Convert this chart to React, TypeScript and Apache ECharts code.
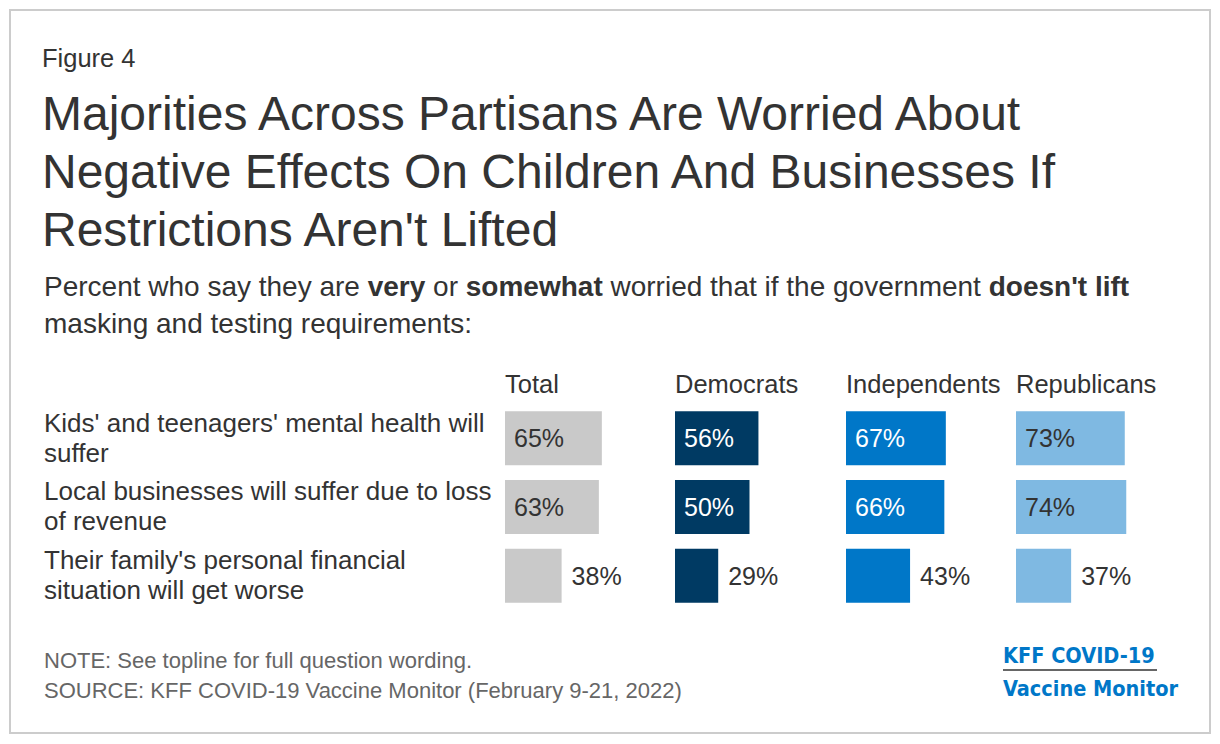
import React, { useEffect, useRef } from "react";
import * as echarts from "echarts";

const categories = [
  ["Kids' and teenagers' mental health will", "suffer"],
  ["Local businesses will suffer due to loss", "of revenue"],
  ["Their family's personal financial", "situation will get worse"],
];
const groups = ["Total", "Democrats", "Independents", "Republicans"];
const totalValues = [65, 63, 38];
const democratValues = [56, 50, 29];
const independentValues = [67, 66, 43];
const republicanValues = [73, 74, 37];
const groupValues = [totalValues, democratValues, independentValues, republicanValues];
const groupColors = ["#c9c9c9", "#003a63", "#0077c8", "#7fb9e2"];
const insideTextColors = ["#333333", "#ffffff", "#ffffff", "#333333"];

const FONT = "'Liberation Sans', Arial, sans-serif";

export default function App() {
  const ref = useRef<HTMLDivElement>(null);
  useEffect(() => {
    if (!ref.current) return;
    const chart = echarts.init(ref.current, undefined, { renderer: "svg" });
    const panelLeft = [505, 675, 846, 1016];
    const grids = panelLeft.map((l) => ({ left: l, top: 404, width: 149, height: 206 }));
    const xAxes = groups.map((_, i) => ({ type: "value", gridIndex: i, min: 0, max: 100, show: false }));
    const yAxes = groups.map((_, i) => ({
      type: "category",
      gridIndex: i,
      inverse: true,
      data: categories.map((c) => c.join(" ")),
      show: false,
    }));
    const series = groups.map((g, i) => ({
      type: "bar",
      name: g,
      xAxisIndex: i,
      yAxisIndex: i,
      barWidth: 54,
      itemStyle: { color: groupColors[i] },
      data: groupValues[i].map((v) => ({
        value: v,
        label:
          v >= 45
            ? { show: true, position: "insideLeft", distance: 9, color: insideTextColors[i] }
            : { show: true, position: "right", distance: 10, color: "#333333" },
      })),
      label: { fontFamily: FONT, fontSize: 25, formatter: "{c}%" },
    }));

    const rowCenters = [438, 506, 575];
    const graphic: any[] = [
      {
        type: "rect",
        shape: { x: 10, y: 10, width: 1200, height: 723 },
        style: { fill: "none", stroke: "#cccccc", lineWidth: 2 },
      },
      {
        type: "text",
        x: 42,
        y: 58,
        style: { text: "Figure 4", font: `25.5px ${FONT}`, fill: "#333333", verticalAlign: "middle" },
      },
      ...[
        "Majorities Across Partisans Are Worried About",
        "Negative Effects On Children And Businesses If",
        "Restrictions Aren't Lifted",
      ].map((t, i) => ({
        type: "text",
        x: 42,
        y: 113 + i * 58,
        style: { text: t, font: `48px ${FONT}`, fill: "#333333", verticalAlign: "middle" },
      })),
      {
        type: "text",
        x: 44,
        y: 286,
        style: {
          text:
            "{n|Percent who say they are }{b|very}{n| or }{b|somewhat}{n| worried that if the government }{b|doesn't lift}",
          verticalAlign: "middle",
          rich: {
            n: { font: `28px ${FONT}`, fill: "#333333" },
            b: { font: `bold 28px ${FONT}`, fill: "#333333" },
          },
        },
      },
      {
        type: "text",
        x: 44,
        y: 323,
        style: {
          text: "masking and testing requirements:",
          font: `28px ${FONT}`,
          fill: "#333333",
          verticalAlign: "middle",
        },
      },
      ...groups.map((g, i) => ({
        type: "text",
        x: panelLeft[i],
        y: 384,
        style: { text: g, font: `25.5px ${FONT}`, fill: "#333333", verticalAlign: "middle" },
      })),
      ...categories.flatMap((c, r) =>
        c.map((line, j) => ({
          type: "text",
          x: 44,
          y: rowCenters[r] - 15 + j * 30,
          style: { text: line, font: `26px ${FONT}`, fill: "#333333", verticalAlign: "middle" },
        }))
      ),
      {
        type: "text",
        x: 44,
        y: 660,
        style: {
          text: "NOTE: See topline for full question wording.",
          font: `22px ${FONT}`,
          fill: "#666666",
          verticalAlign: "middle",
        },
      },
      {
        type: "text",
        x: 44,
        y: 690,
        style: {
          text: "SOURCE: KFF COVID-19 Vaccine Monitor (February 9-21, 2022)",
          font: `22px ${FONT}`,
          fill: "#666666",
          verticalAlign: "middle",
        },
      },
      {
        type: "text",
        x: 1003,
        y: 655,
        style: {
          text: "KFF COVID-19",
          font: `bold 21.5px 'DejaVu Sans Condensed', sans-serif`,
          fill: "#0077c8",
          verticalAlign: "middle",
        },
      },
      {
        type: "line",
        shape: { x1: 1003, y1: 670, x2: 1157, y2: 670 },
        style: { stroke: "#333333", lineWidth: 1.5 },
      },
      {
        type: "text",
        x: 1003,
        y: 688,
        style: {
          text: "Vaccine Monitor",
          font: `bold 21.5px 'DejaVu Sans Condensed', sans-serif`,
          fill: "#0077c8",
          verticalAlign: "middle",
        },
      },
    ];

    chart.setOption({
      animation: false,
      backgroundColor: "#ffffff",
      textStyle: { fontFamily: FONT },
      grid: grids,
      xAxis: xAxes,
      yAxis: yAxes,
      series,
      graphic,
    } as any);
    return () => chart.dispose();
  }, []);
  return (
    <div
      ref={ref}
      style={{ position: "fixed", left: 0, top: 0, width: 1220, height: 744 }}
    />
  );
}
